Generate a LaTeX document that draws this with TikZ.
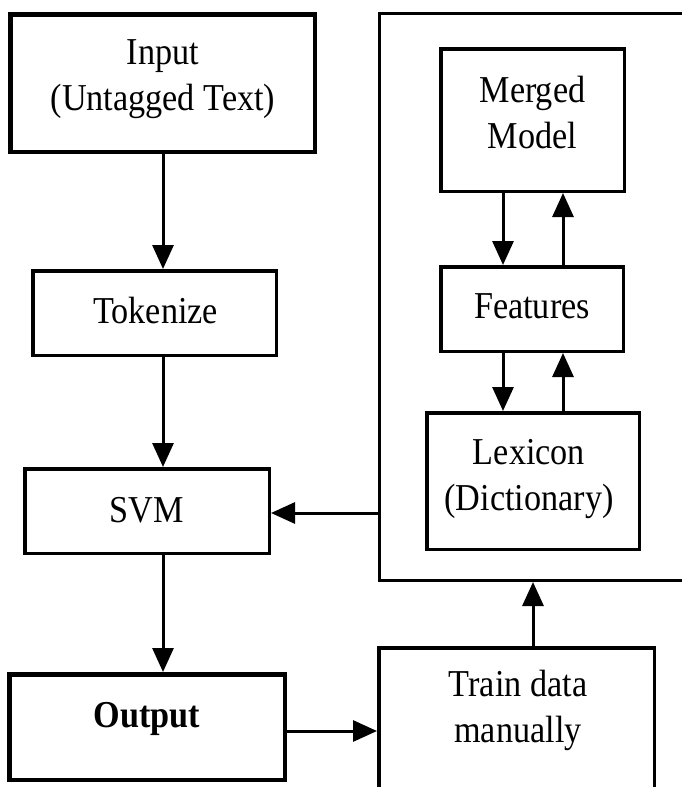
\documentclass[tikz,border=0pt]{standalone}
\usepackage{fontspec}
\setmainfont{Liberation Serif}[FakeStretch=0.9]
\usetikzlibrary{arrows.meta}

\tikzset{
  box/.style={draw, line width=3.5pt, rectangle, inner sep=0pt, align=center},
  heavybox/.style={box, line width=4.5pt},
  lbl/.style={inner sep=0pt, align=center},
  flow/.style={line width=3pt, -{Triangle[length=24pt,width=21pt]}},
}

\begin{document}
\begin{tikzpicture}[x=1pt, y=-1pt,
  every node/.style={font=\fontsize{38}{46}\selectfont}]
\useasboundingbox (0,0) rectangle (682,787);

% guide coordinates for connector positions
\coordinate (col)  at (163,0);
\coordinate (dn)   at (503,0);
\coordinate (up)   at (563,0);
\coordinate (feed) at (0,513);
\coordinate (out)  at (0,731);
\coordinate (trn)  at (533,0);

% left column
\node[heavybox, minimum width=304.5pt, minimum height=137.5pt] (input) at (162.5,83) {};
\node[lbl] (inputlbl) at (163,79) {Input\\(Untagged Text)};
\node[box, minimum width=243.5pt, minimum height=84.5pt] (tok) at (154.5,313) {};
\node[lbl, anchor=base] (toklbl) at (155.5,323) {Tokenize};
\node[box, minimum width=244.5pt, minimum height=84.5pt] (svm) at (147,511) {};
\node[lbl, anchor=base] (svmlbl) at (147,522) {SVM};
\node[heavybox, minimum width=275.5pt, minimum height=105.5pt] (output) at (147,727) {};
\node[lbl, anchor=base] (outputlbl) at (147,727) {\bfseries Output};

% knowledge block on the right
\node[draw, line width=3pt, inner sep=0pt, minimum width=340.5pt, minimum height=567pt] (kb) at (549.75,297) {};
\node[box, minimum width=183.5pt, minimum height=142.5pt] (merged) at (532.5,120) {};
\node[lbl] (mergedlbl) at (532.5,113) {Merged\\Model};
\node[box, minimum width=182.5pt, minimum height=84.5pt] (feat) at (532,309) {};
\node[lbl, anchor=base] (featlbl) at (532,318) {Features};
\node[box, minimum width=212.5pt, minimum height=136.5pt] (lex) at (533,481) {};
\node[lbl] (lexlbl) at (529,479) {Lexicon\\(Dictionary)};

% manual training
\node[box, minimum width=275.5pt, minimum height=180pt] (train) at (516.5,737.75) {};
\node[lbl] (trainlbl) at (518,710) {Train data\\manually};

% main flow
\draw[flow] (input.south -| col) -- (tok.north -| col);
\draw[flow] (tok.south -| col) -- (svm.north -| col);
\draw[flow] (svm.south -| col) -- (output.north -| col);
\draw[flow] (output.east |- out) -- (train.west |- out);
\draw[flow] (train.north -| trn) -- (kb.south -| trn);
\draw[flow] (kb.west |- feed) -- (svm.east |- feed);

% exchanges inside the knowledge block
\draw[flow] (merged.south -| dn) -- (feat.north -| dn);
\draw[flow] (feat.north -| up) -- (merged.south -| up);
\draw[flow] (feat.south -| dn) -- (lex.north -| dn);
\draw[flow] (lex.north -| up) -- (feat.south -| up);
\end{tikzpicture}
\end{document}
